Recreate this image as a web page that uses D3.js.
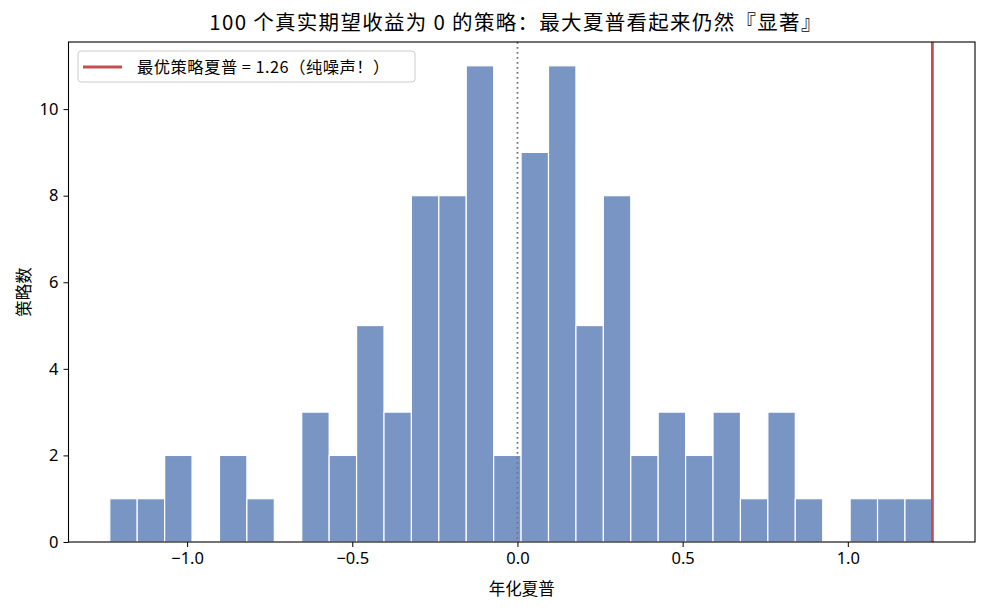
<!DOCTYPE html>
<html><head><meta charset="utf-8">
<script src="https://cdn.jsdelivr.net/npm/d3@7"></script>
<style>
body{margin:0;background:#fff;}
text{font-family:"Noto Sans CJK SC","Noto Sans",sans-serif;}
</style></head>
<body><svg id="c" width="988" height="611"></svg>
<script>
const title = "100 个真实期望收益为 0 的策略：最大夏普看起来仍然『显著』";
const xLabel = "年化夏普";
const yLabel = "策略数";
const binStart = -1.234;
const binWidth = 0.083;
const counts = [1,1,2,0,2,1,0,3,2,5,3,8,8,11,2,9,11,5,8,2,3,2,3,1,3,1,0,1,1,1];
const bestSharpe = 1.256;
const legendText = "最优策略夏普 = 1.26（纯噪声！）";
const xTicks = [-1.0,-0.5,0.0,0.5,1.0];
const yTicks = [0,2,4,6,8,10];

const bins = counts.map((c,i)=>({x0: binStart + i*binWidth, x1: binStart + (i+1)*binWidth, n: c}));

const m = {l:68.5, r:975, t:42, b:542};
const svg = d3.select("#c");
const x = d3.scaleLinear().domain([-1.359, 1.385]).range([m.l, m.r]);
const y = d3.scaleLinear().domain([0, 11.55]).range([m.b, m.t]);

svg.append("g").selectAll("rect").data(bins.filter(d=>d.n>0)).join("rect")
  .attr("x", d=>x(d.x0)).attr("width", d=>x(d.x1)-x(d.x0))
  .attr("y", d=>y(d.n)).attr("height", d=>y(0)-y(d.n))
  .attr("fill", "#7995c4").attr("stroke", "#fff").attr("stroke-width", 1.2);

svg.append("line").attr("x1", x(0)).attr("x2", x(0)).attr("y1", m.t).attr("y2", m.b)
  .attr("stroke", "#777").attr("stroke-width", 1.8).attr("stroke-dasharray", "1.8,3.2");

svg.append("line").attr("x1", x(bestSharpe)).attr("x2", x(bestSharpe)).attr("y1", m.t).attr("y2", m.b)
  .attr("stroke", "#c44e52").attr("stroke-width", 2.8);

const fmt = v => (v<0?"\u2212":"") + Math.abs(v).toFixed(1);
const xa = svg.append("g").attr("transform", `translate(0,${m.b})`)
  .call(d3.axisBottom(x).tickValues(xTicks).tickFormat(fmt).tickSize(5).tickPadding(5));
const ya = svg.append("g").attr("transform", `translate(${m.l},0)`)
  .call(d3.axisLeft(y).tickValues(yTicks).tickFormat(d3.format("d")).tickSize(5).tickPadding(5));
[xa,ya].forEach(a=>{
  a.select(".domain").remove();
  a.selectAll("line").attr("stroke","#000").attr("stroke-width",1);
  a.selectAll("text").attr("font-size",16.5).attr("fill","#000")
   .style("font-family","'Noto Sans','Noto Sans CJK SC',sans-serif");
});

svg.append("rect").attr("x", m.l).attr("y", m.t).attr("width", m.r-m.l).attr("height", m.b-m.t)
  .attr("fill","none").attr("stroke","#000").attr("stroke-width",1.1);

svg.append("text").attr("x", 516).attr("y", 30).attr("text-anchor","middle")
  .attr("font-size", 20.5).attr("letter-spacing", 1.3).attr("fill","#000").text(title);
svg.append("text").attr("x", (m.l+m.r)/2).attr("y", 595).attr("text-anchor","middle")
  .attr("font-size", 16.5).attr("fill","#000").text(xLabel);
svg.append("text").attr("transform", `translate(30,${(m.t+m.b)/2}) rotate(-90)`).attr("text-anchor","middle")
  .attr("font-size", 16.5).attr("fill","#000").text(yLabel);

const lg = svg.append("g");
lg.append("rect").attr("x", 78).attr("y", 51).attr("width", 337).attr("height", 31).attr("rx", 3)
  .attr("fill","#fff").attr("fill-opacity",0.8).attr("stroke","#ccc");
lg.append("line").attr("x1", 83).attr("x2", 122).attr("y1", 67).attr("y2", 67)
  .attr("stroke","#c44e52").attr("stroke-width",2.8);
lg.append("text").attr("x", 137).attr("y", 73).attr("font-size", 16.3).attr("letter-spacing", 0.5)
  .attr("fill","#000").text(legendText);
</script></body></html>
